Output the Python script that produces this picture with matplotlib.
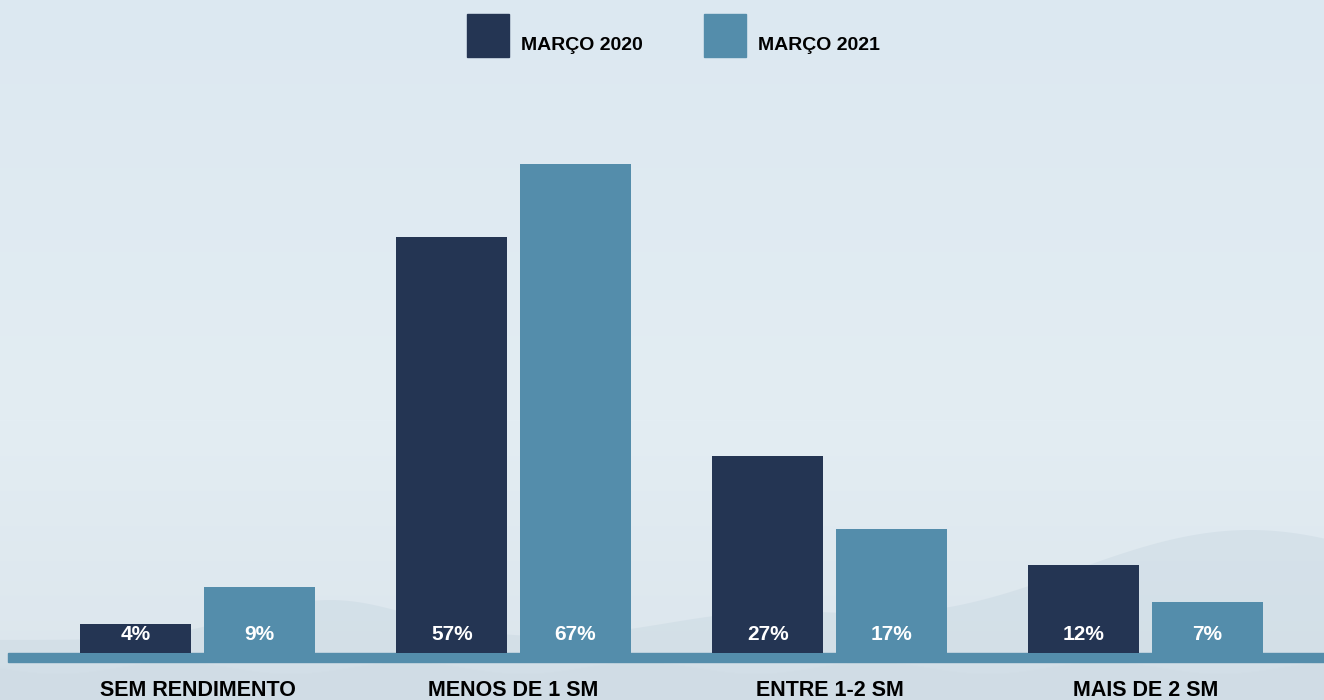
import numpy as np
import matplotlib.pyplot as plt
from matplotlib.patches import Rectangle

# rendimento das famílias, em % (março 2020 x março 2021)
categorias = ['SEM RENDIMENTO', 'MENOS DE 1 SM', 'ENTRE 1-2 SM', 'MAIS DE 2 SM']
marco_2020 = [4, 57, 27, 12]
marco_2021 = [9, 67, 17, 7]
series = ['MARÇO 2020', 'MARÇO 2021']

cor_escura = '#243553'
cor_clara = '#548dab'
fonte = ['Liberation Sans', 'DejaVu Sans']

W, H = 1324, 700
fig = plt.figure(figsize=(W / 100, H / 100), dpi=100)

# fundo: degradê azul claro com silhueta suave de morros
bg = fig.add_axes([0, 0, 1, 1])
bg.set_xlim(0, W)
bg.set_ylim(H, 0)
bg.axis('off')
grad = np.ones((H, 1, 3))
top = np.array([0xdc, 0xe8, 0xf1]) / 255
mid = np.array([0xe3, 0xed, 0xf3]) / 255
bot = np.array([0xdb, 0xe5, 0xec]) / 255
for r in range(H):
    if r < 420:
        grad[r, 0] = top + (mid - top) * r / 420
    else:
        grad[r, 0] = mid + (bot - mid) * (r - 420) / (H - 420)
bg.imshow(grad, aspect='auto', extent=[0, W, H, 0], zorder=0)
xs = np.linspace(0, W, 200)
ridge = 640 - 40 * np.exp(-((xs - 330) / 120) ** 2) - 110 * np.exp(-((xs - 1250) / 260) ** 2) \
    - 25 * np.exp(-((xs - 760) / 140) ** 2)
bg.fill_between(xs, ridge, H, color='#c3d3de', alpha=0.35, lw=0, zorder=1)
bg.fill_between(xs, 668 + 6 * np.sin(xs / 37), H, color='#d0dce4', alpha=0.5, lw=0, zorder=1)

# eixo principal: base em y=653 px, ~7.3 px por ponto percentual
base_px = 653
escala = 7.3
ax = fig.add_axes([0, (H - base_px) / H, 1, (base_px - 100) / H])
ax.set_facecolor('none')
ax.set_xlim(-0.625, 3.565)
ax.set_ylim(0, (base_px - 100) / escala)
ax.axis('off')

x = np.arange(len(categorias))
larg = 0.351
desl = 0.195
b1 = ax.bar(x - desl, marco_2020, larg, color=cor_escura, zorder=3)
b2 = ax.bar(x + desl, marco_2021, larg, color=cor_clara, zorder=3)

for barras, vals in ((b1, marco_2020), (b2, marco_2021)):
    for b, v in zip(barras, vals):
        ax.annotate(f'{v}%', (b.get_x() + b.get_width() / 2, 0), xytext=(0, 13.5),
                    textcoords='offset points', ha='center', va='center',
                    color='white', fontsize=15, fontweight='bold', family=fonte, zorder=4)

for xi, cat in zip(x, categorias):
    ax.annotate(cat, (xi, 0), xytext=(0, -27), textcoords='offset points',
                ha='center', va='center', color='black', fontsize=15.5,
                fontweight='bold', family=fonte, annotation_clip=False)

# faixa da linha de base
bg.add_patch(Rectangle((8, base_px), W - 8, 9, color=cor_clara, zorder=2))

# legenda
for px, cor, nome in ((467, cor_escura, series[0]), (704, cor_clara, series[1])):
    bg.add_patch(Rectangle((px, 14), 42, 43, color=cor, zorder=2))
    bg.text(px + 54, 46, nome, color='black', fontsize=14, fontweight='bold',
            family=fonte, va='center', ha='left', zorder=3)

fig.savefig('out.png', dpi=100)
